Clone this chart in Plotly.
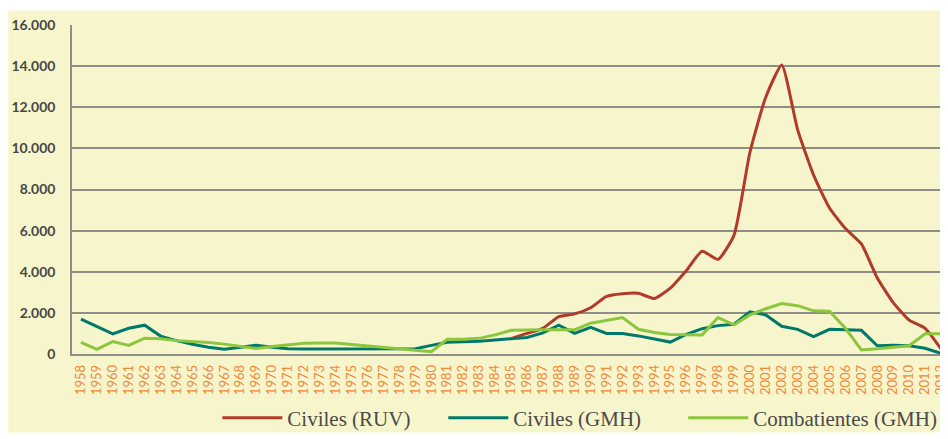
import plotly.graph_objects as go

years = list(range(1958, 2013))
ruv_years = list(range(1985, 2013))

civiles_ruv = [750, 1000, 1250, 1820, 1950, 2250, 2800, 2930, 2950, 2700,
               3200, 4050, 5000, 4600, 5770, 9800, 12500, 14060, 10900, 8700,
               7100, 6100, 5350, 3700, 2500, 1650, 1250, 250]

civiles_gmh = [1700, 1340, 980, 1250, 1400, 870, 650, 470, 330, 230,
               330, 420, 330, 250, 240, 240, 240, 240, 240, 240,
               240, 260, 420, 570, 600, 620, 680, 725, 800, 1030,
               1400, 1000, 1300, 1000, 1000, 880, 720, 580, 950, 1230,
               1380, 1450, 2050, 1900, 1350, 1200, 850, 1200, 1180, 1150,
               400, 420, 400, 280, 30]

combatientes_gmh = [570, 230, 600, 415, 770, 740, 650, 610, 560, 480,
                    380, 270, 370, 460, 520, 540, 530, 460, 390, 300,
                    220, 160, 110, 720, 720, 760, 930, 1150, 1180, 1180,
                    1180, 1180, 1500, 1650, 1770, 1200, 1050, 950, 930, 930,
                    1770, 1420, 1900, 2200, 2450, 2350, 2100, 2080, 1250, 200,
                    260, 330, 400, 980, 980]

y_ticks = [0, 2000, 4000, 6000, 8000, 10000, 12000, 14000, 16000]
y_labels = ["0", "2.000", "4.000", "6.000", "8.000", "10.000", "12.000", "14.000", "16.000"]
x_labels = [str(y) for y in years]

series_names = ["Civiles (RUV)", "Civiles (GMH)", "Combatientes (GMH)"]
colors = ["#B23A2A", "#00796B", "#8CC63F"]

CREAM = "#F7F5CB"
GRID = "#8E8E86"

fig = go.Figure()
fig.add_trace(go.Scatter(x=ruv_years, y=civiles_ruv, mode="lines", name=series_names[0],
                         line=dict(color=colors[0], width=3, shape="spline", smoothing=0.5),
                         legend="legend"))
fig.add_trace(go.Scatter(x=years, y=civiles_gmh, mode="lines", name=series_names[1],
                         line=dict(color=colors[1], width=3), legend="legend2"))
fig.add_trace(go.Scatter(x=years, y=combatientes_gmh, mode="lines", name=series_names[2],
                         line=dict(color=colors[2], width=3), legend="legend3"))

# page body has an 8px margin: figure origin sits at (8, 8) of the window
OFF = 8
W, H = 948 - OFF, 439 - OFF
L, R, T, B = 72 - OFF, 0, 25 - OFF, 439 - 364
pw, ph = W - L - R, H - T - B

def px_x(p):
    return (p - OFF - L) / pw

def px_y(p):
    return (H - B - (p - OFF)) / ph

leg_font = dict(family="Liberation Serif, Times New Roman, serif", size=21, color="#4A4A4A")
common_leg = dict(orientation="h", yanchor="middle", xanchor="left", y=px_y(430),
                  bgcolor="rgba(0,0,0,0)", font=leg_font, itemwidth=60)

fig.update_layout(
    width=W, height=H,
    margin=dict(l=L, r=R, t=T, b=B),
    paper_bgcolor="white",
    plot_bgcolor="rgba(0,0,0,0)",
    showlegend=True,
    legend=dict(x=px_x(218), **common_leg),
    legend2=dict(x=px_x(445), **common_leg),
    legend3=dict(x=px_x(686), **common_leg),
    shapes=[dict(type="rect", xref="paper", yref="paper", layer="below",
                 x0=px_x(8), x1=px_x(960), y0=px_y(445), y1=px_y(10),
                 fillcolor=CREAM, line=dict(width=0))],
    xaxis=dict(
        range=[1957.4375, 2012.1875],
        tickmode="array", tickvals=years, ticktext=x_labels,
        tickangle=-90,
        tickfont=dict(family="Lato, sans-serif", size=13, color="#EE8A3C"),
        ticklabeloverflow="allow",
        showgrid=False, zeroline=False,
        showline=True, linecolor=GRID, linewidth=1.5,
        ticks="", ticklabelstandoff=4,
        fixedrange=True,
    ),
    yaxis=dict(
        range=[0, 16000],
        tickmode="array", tickvals=y_ticks, ticktext=y_labels,
        tickfont=dict(family="Lato, sans-serif", size=14, color="#474747", weight="bold"),
        showgrid=True, gridcolor=GRID, gridwidth=1.5,
        zeroline=False,
        showline=True, linecolor=GRID, linewidth=1.5,
        ticks="", ticklabelstandoff=12,
        fixedrange=True,
    ),
)

fig.write_html("out.html")
